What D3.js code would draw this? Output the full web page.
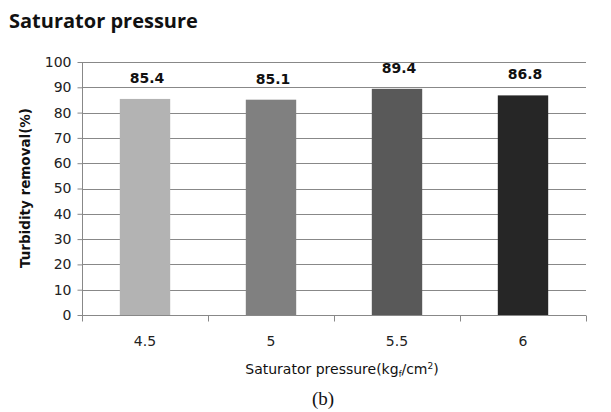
<!DOCTYPE html>
<html>
  <head>
    <meta charset="utf-8">
    <style>
      body {
        margin:0;
        background:#fff;
        font-family:"DejaVu Sans", sans-serif;
      }
      .grid line {
        stroke:#888;
        stroke-width:1;
      }
      .axis .domain, .axis .tick line {
        stroke:#888;
      }
      .axis .tick text {
        fill:#222;
        font-size:14px;
        font-family:"DejaVu Sans", sans-serif;
      }
    </style>
  </head>
  <body>
    <div class="graph"></div>
    <script src="https://cdn.jsdelivr.net/npm/d3@7"></script>
    <script>
      var categories = ["4.5", "5", "5.5", "6"];
      var values = [85.4, 85.1, 89.4, 86.8];
      var colors = ["#b3b3b3", "#808080", "#595959", "#262626"];
      var yTicks = [0, 10, 20, 30, 40, 50, 60, 70, 80, 90, 100];

      var width = 611, height = 412;
      var plotLeft = 82, plotRight = 586, plotTop = 62, plotBottom = 315;

      var svg = d3.select(".graph").append("svg")
        .attr("width", width)
        .attr("height", height);

      var x = d3.scaleBand()
        .domain(categories)
        .range([plotLeft, plotRight])
        .paddingInner(0.6)
        .paddingOuter(0.3);

      var y = d3.scaleLinear()
        .domain([0, 100])
        .range([plotBottom, plotTop]);

      // gridlines
      svg.append("g")
        .attr("class", "grid")
        .selectAll("line")
        .data(yTicks.filter(function (d) { return d > 0; }))
        .enter().append("line")
        .attr("x1", plotLeft)
        .attr("x2", plotRight)
        .attr("y1", function (d) { return Math.round(y(d)) + 0.5; })
        .attr("y2", function (d) { return Math.round(y(d)) + 0.5; });

      // bars
      svg.append("g")
        .selectAll("rect")
        .data(values)
        .enter().append("rect")
        .attr("x", function (d, i) { return x(categories[i]); })
        .attr("width", x.bandwidth())
        .attr("y", function (d) { return y(d); })
        .attr("height", function (d) { return y(0) - y(d); })
        .style("fill", function (d, i) { return colors[i]; });

      // value labels
      svg.append("g")
        .selectAll("text")
        .data(values)
        .enter().append("text")
        .attr("x", function (d, i) { return x(categories[i]) + x.bandwidth() / 2 + 2; })
        .attr("y", function (d) { return y(d) - 16; })
        .attr("text-anchor", "middle")
        .style("font-size", "14px")
        .style("font-weight", "bold")
        .style("fill", "#111")
        .text(function (d) { return d.toFixed(1); });

      // y axis
      svg.append("g")
        .attr("class", "axis")
        .attr("transform", "translate(" + (plotLeft + 0.5) + ",0)")
        .call(d3.axisLeft(y).tickValues(yTicks).tickSize(5).tickPadding(6))
        .call(function (g) { g.select(".domain").attr("d", "M0," + plotTop + "V" + (plotBottom + 6)); });

      // x axis: ticks on category boundaries
      var xa = svg.append("g")
        .attr("class", "axis")
        .attr("transform", "translate(0," + (plotBottom + 0.5) + ")");
      xa.append("line")
        .attr("x1", plotLeft).attr("x2", plotRight)
        .attr("stroke", "#888");
      var step = (plotRight - plotLeft) / categories.length;
      xa.selectAll(".bt")
        .data(d3.range(categories.length + 1))
        .enter().append("line")
        .attr("x1", function (i) { return Math.round(plotLeft + i * step) + 0.5; })
        .attr("x2", function (i) { return Math.round(plotLeft + i * step) + 0.5; })
        .attr("y1", 0).attr("y2", 6)
        .attr("stroke", "#888");
      xa.selectAll("text")
        .data(categories)
        .enter().append("text")
        .attr("x", function (d) { return x(d) + x.bandwidth() / 2; })
        .attr("y", 30)
        .attr("text-anchor", "middle")
        .style("font-size", "14px")
        .style("fill", "#222")
        .text(function (d) { return d; });

      // title
      svg.append("text")
        .attr("x", 9)
        .attr("y", 28)
        .style("font-family", "'Open Sans', sans-serif")
        .style("font-size", "20px")
        .style("font-weight", "bold")
        .style("fill", "#111")
        .text("Saturator pressure");

      // y title
      svg.append("text")
        .attr("transform", "translate(30,188) rotate(-90)")
        .attr("text-anchor", "middle")
        .style("font-size", "13.5px")
        .style("font-weight", "bold")
        .style("fill", "#111")
        .text("Turbidity removal(%)");

      // x title
      var xt = svg.append("text")
        .attr("x", 342)
        .attr("y", 374)
        .attr("text-anchor", "middle")
        .style("font-size", "14px")
        .style("fill", "#111");
      xt.append("tspan").text("Saturator pressure(kg");
      xt.append("tspan").attr("dy", 3).style("font-size", "8px").text("f");
      xt.append("tspan").attr("dy", -3).text("/cm");
      xt.append("tspan").attr("dy", -5).style("font-size", "9px").text("2");
      xt.append("tspan").attr("dy", 5).text(")");

      // caption
      svg.append("text")
        .attr("x", 323)
        .attr("y", 405)
        .attr("text-anchor", "middle")
        .style("font-family", "'Liberation Serif', 'DejaVu Serif', serif")
        .style("font-size", "19px")
        .style("fill", "#111")
        .text("(b)");
    </script>
  </body>
</html>
